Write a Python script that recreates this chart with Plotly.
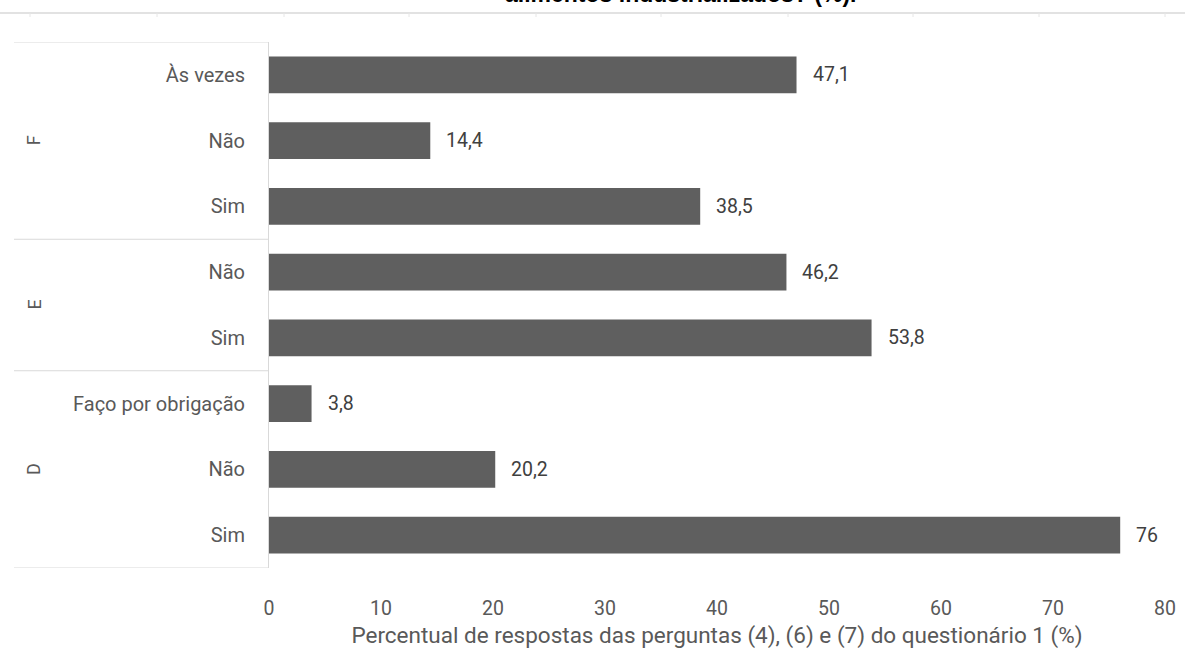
import plotly.graph_objects as go

groups = ["F", "F", "F", "E", "E", "D", "D", "D"]
answers = ["Às vezes", "Não", "Sim", "Não", "Sim", "Faço por obrigação", "Não", "Sim"]
values = [47.1, 14.4, 38.5, 46.2, 53.8, 3.8, 20.2, 76]
x_ticks = [0, 10, 20, 30, 40, 50, 60, 70, 80]
x_title = "Percentual de respostas das perguntas (4), (6) e (7) do questionário 1 (%)"
title_text = "alimentos industrializados? (%)."

FONT = "Roboto"
pos = list(range(len(answers)))

fig = go.Figure()
fig.add_trace(go.Bar(
    x=values, y=pos, orientation="h",
    marker=dict(color="#5f5f5f", line=dict(width=0)),
    width=0.56, hoverinfo="skip",
))

# data labels
for v, p in zip(values, pos):
    fig.add_annotation(x=v, y=p, xref="x", yref="y", text=f"{v:g}".replace(".", ","),
                       showarrow=False, xanchor="left", xshift=14,
                       font=dict(family=FONT, size=19.5, color="#404040"))

W, H = 1185, 649
ml, mr, mt, mb = 269, 20, 42, 81

fig.update_layout(
    width=W, height=H,
    margin=dict(l=ml, r=mr, t=mt, b=mb, pad=0),
    plot_bgcolor="white", paper_bgcolor="white",
    showlegend=False,
    font=dict(family=FONT, color="#595959"),
)
fig.update_xaxes(
    range=[0, 80], tickvals=x_ticks, showgrid=False, zeroline=False,
    showline=False, ticks="", ticklabelstandoff=26, automargin=False,
    tickfont=dict(family=FONT, size=19.5, color="#595959"),
    title=dict(text=x_title, font=dict(family=FONT, size=22.5, color="#595959"), standoff=13),
)
fig.update_yaxes(
    range=[len(answers) - 0.5, -0.5], tickvals=pos, ticktext=answers,
    showgrid=False, zeroline=False, showline=True, linecolor="#d9d9d9", linewidth=1,
    ticks="", ticklabelstandoff=19, automargin=False,
    tickfont=dict(family=FONT, size=20, color="#595959"),
)

# group separators in the category axis
x_left = (14 - ml) / (W - ml - mr)
bounds = [-0.5]
for i in range(1, len(groups)):
    if groups[i] != groups[i - 1]:
        bounds.append(i - 0.5)
bounds.append(len(groups) - 0.5)
for b in bounds:
    fig.add_shape(type="line", xref="paper", yref="y", x0=x_left, x1=0, y0=b, y1=b,
                  line=dict(color="#d9d9d9", width=1.2))

# group labels
x_grp = (21 - ml) / (W - ml - mr)
for k in range(len(bounds) - 1):
    mid = (bounds[k] + bounds[k + 1]) / 2
    g = groups[int(bounds[k] + 0.5)]
    fig.add_annotation(xref="paper", yref="y", x=x_grp, y=mid, text=g, showarrow=False,
                       textangle=-90, font=dict(family=FONT, size=18, color="#595959"))

# top cut-off line and title remnants
y_top_line = 1 + (mt - 13) / (H - mt - mb)
x_full_left = -ml / (W - ml - mr)
x_full_right = 1 + mr / (W - ml - mr)
fig.add_shape(type="line", xref="paper", yref="paper", x0=x_full_left, x1=x_full_right,
              y0=y_top_line, y1=y_top_line, line=dict(color="#d9d9d9", width=1.5))
for px in [30, 157, 284, 409, 536, 661, 788, 913, 1039, 1165]:
    xp = (px - ml) / (W - ml - mr)
    fig.add_shape(type="line", xref="paper", yref="paper", x0=xp, x1=xp,
                  y0=y_top_line, y1=y_top_line - 4 / (H - mt - mb),
                  line=dict(color="#e6e6e6", width=1))

fig.add_annotation(xref="paper", yref="paper", x=(680 - ml) / (W - ml - mr),
                   y=1 + (mt - 9) / (H - mt - mb), yanchor="bottom", text="<b>" + title_text + "</b>",
                   showarrow=False, font=dict(family="Liberation Sans", size=23, color="#000000"))

fig.write_html("out.html")
